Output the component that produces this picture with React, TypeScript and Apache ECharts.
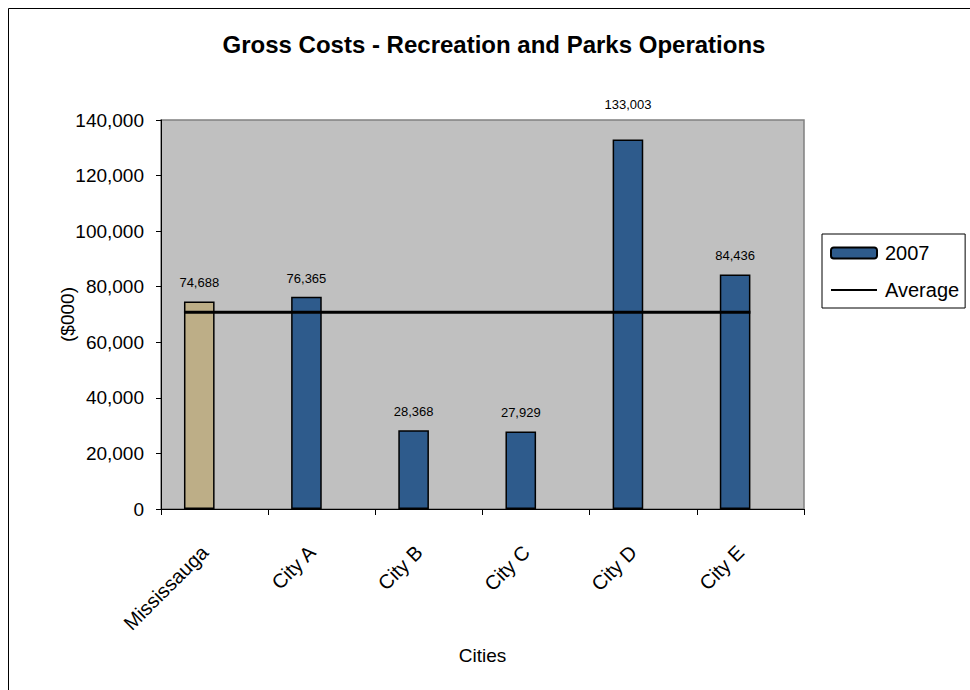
import React, { useEffect, useRef } from "react";
import * as echarts from "echarts";

const categories = ["Mississauga", "City A", "City B", "City C", "City D", "City E"];
const values2007 = [74688, 76365, 28368, 27929, 133003, 84436];
const averageValue = 70798;
const yTicks = { min: 0, max: 140000, interval: 20000 };

const FONT = "'Liberation Sans', Arial, sans-serif";
const BLUE = "#2E5B8C";
const TAN = "#BDAE87";

// Excel-like clustered layout: 2 series per category, gap width 150%
const clusterCount = 2;
const gapRatio = 1.5;
const barFrac = 1 / (clusterCount + gapRatio);
const barOffset = (gapRatio / 2) * barFrac;

const fmt = (v: number) => v.toLocaleString("en-US");

export default function App() {
  const ref = useRef<HTMLDivElement>(null);
  useEffect(() => {
    if (!ref.current) return;
    const chart = echarts.init(ref.current, null, { renderer: "svg" });
    const n = categories.length;
    chart.setOption({
      animation: false,
      backgroundColor: "#fff",
      textStyle: { fontFamily: FONT },
      graphic: [
        {
          type: "rect",
          shape: { x: 8.5, y: 8.5, width: 1200, height: 1200 },
          style: { fill: "none", stroke: "#000", lineWidth: 1 },
          silent: true,
        },
        {
          type: "text",
          x: 494,
          y: 44,
          style: {
            text: "Gross Costs - Recreation and Parks Operations",
            textAlign: "center",
            textVerticalAlign: "middle",
            font: `bold 24px ${FONT}`,
            fill: "#000",
          },
        },
      ],
      legend: {
        data: ["2007", "Average"],
        orient: "vertical",
        left: 822,
        top: 234,
        padding: [9, 6, 8, 8],
        itemGap: 17,
        itemWidth: 46,
        itemHeight: 11,
        borderColor: "#000",
        borderWidth: 1,
        backgroundColor: "#fff",
        textStyle: { fontSize: 20, fontFamily: FONT, color: "#000", padding: [0, 0, 0, 3] },
      },
      grid: {
        left: 161,
        top: 120,
        right: 166,
        bottom: 181,
        show: true,
        backgroundColor: "#C0C0C0",
        borderColor: "#808080",
        borderWidth: 1.5,
      },
      xAxis: [
        {
          type: "category",
          data: categories,
          name: "Cities",
          nameLocation: "middle",
          nameGap: 137,
          nameMoveOverlap: false,
          nameTextStyle: { fontSize: 19, color: "#000", fontFamily: FONT },
          axisLine: { lineStyle: { color: "#000", width: 1 } },
          axisTick: { show: true, length: 6, lineStyle: { color: "#000" } },
          axisLabel: {
            rotate: 45,
            fontSize: 20,
            color: "#000",
            margin: 30,
            padding: [0, 14, 0, 0],
            fontFamily: FONT,
          },
          splitLine: { show: false },
        },
        { type: "value", min: 0, max: n, show: false },
      ],
      yAxis: {
        type: "value",
        min: yTicks.min,
        max: yTicks.max,
        interval: yTicks.interval,
        name: "($000)",
        nameLocation: "middle",
        nameGap: 84,
        nameMoveOverlap: false,
        nameRotate: 90,
        nameTextStyle: { fontSize: 19, color: "#000", fontFamily: FONT },
        axisLine: { show: true, lineStyle: { color: "#000", width: 1 } },
        axisTick: { show: true, length: 5, lineStyle: { color: "#000" } },
        axisLabel: { fontSize: 19, color: "#000", margin: 17, formatter: (v: number) => fmt(v), fontFamily: FONT },
        splitLine: { show: false },
      },
      series: [
        {
          name: "2007",
          type: "bar",
          barWidth: `${barFrac * 100}%`,
          barGap: "0%",
          itemStyle: { color: BLUE, borderColor: "#000", borderWidth: 1.5 },
          label: {
            show: true,
            position: "top",
            distance: 12,
            fontSize: 13,
            color: "#000",
            fontFamily: FONT,
            formatter: (p: any) => fmt(p.value),
          },
          data: values2007.map((v, i) => {
            const item: any = { value: v };
            if (i === 0) item.itemStyle = { color: TAN };
            if (v === Math.max(...values2007)) item.label = { distance: 28 };
            return item;
          }),
        },
        {
          name: "ghost",
          type: "bar",
          barWidth: `${barFrac * 100}%`,
          barGap: "0%",
          data: categories.map(() => null),
        },
        {
          name: "Average",
          type: "line",
          xAxisIndex: 1,
          symbol: "none",
          lineStyle: { color: "#000", width: 3 },
          itemStyle: { color: "rgba(0,0,0,0)", borderWidth: 0, opacity: 0 },
          data: [
            [barOffset, averageValue],
            [n - 1 + barOffset + barFrac, averageValue],
          ],
          z: 5,
        },
      ],
    });
    return () => chart.dispose();
  }, []);
  return (
    <div
      ref={ref}
      style={{ position: "absolute", left: 0, top: 0, width: 970, height: 690 }}
    />
  );
}
